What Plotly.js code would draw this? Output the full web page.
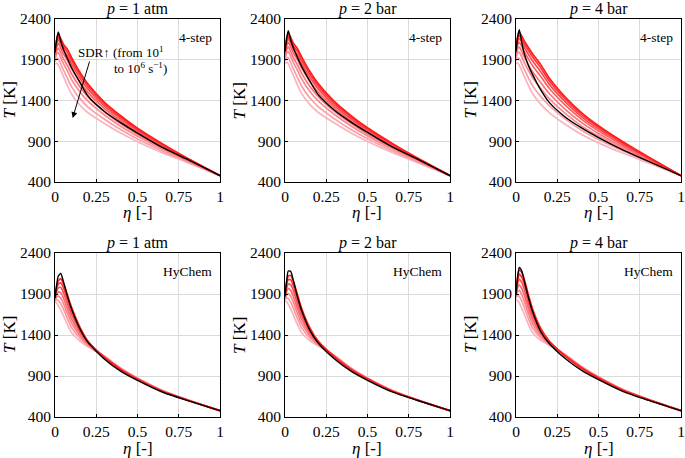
<!DOCTYPE html>
<html><head><meta charset="utf-8">
<script src="https://cdn.plot.ly/plotly-3.0.1.min.js"></script>
<style>html,body{margin:0;padding:0;background:#fff}#plot{width:685px;height:458px}</style>
</head><body><div id="plot"></div>
<script>
// mixture-fraction grid
const eta = [0, 0.01, 0.02, 0.035, 0.05, 0.075, 0.1, 0.15, 0.2, 0.3, 0.4, 0.5, 0.65, 0.8, 1];

// panel titles / labels
const pressureLabels = ['<i>p</i> = 1 atm', '<i>p</i> = 2 bar', '<i>p</i> = 4 bar', '<i>p</i> = 1 atm', '<i>p</i> = 2 bar', '<i>p</i> = 4 bar'];
const mechLabels = ['4-step', '4-step', '4-step', 'HyChem', 'HyChem', 'HyChem'];
const yTickVals = [400, 900, 1400, 1900, 2400];
const xTickVals = [0, 0.25, 0.5, 0.75, 1];
const xTickText = ['0', '0.25', '0.5', '0.75', '1'];

// 4-step, 1 atm (flamelets, low SDR -> high SDR)
const red_4s_1atm = [
 [2000, 2140, 2215, 2160, 2095, 2030, 1930, 1750, 1602, 1378, 1210, 1060, 870, 695, 478],
 [1988, 2117, 2185, 2129, 2063, 1994, 1894, 1718, 1574, 1357, 1193, 1047, 861, 691, 478],
 [1973, 2089, 2147, 2090, 2024, 1950, 1849, 1677, 1539, 1331, 1172, 1030, 850, 685, 478],
 [1954, 2055, 2101, 2043, 1977, 1897, 1795, 1629, 1496, 1300, 1146, 1010, 837, 679, 478],
 [1932, 2013, 2044, 1985, 1917, 1830, 1728, 1568, 1444, 1261, 1114, 986, 821, 670, 478],
 [1909, 1971, 1987, 1926, 1858, 1763, 1660, 1507, 1391, 1222, 1082, 961, 804, 662, 478],
 [1878, 1914, 1911, 1848, 1779, 1674, 1570, 1426, 1320, 1170, 1040, 928, 782, 651, 478],
 [1848, 1858, 1835, 1770, 1700, 1585, 1480, 1345, 1250, 1118, 997, 895, 760, 640, 478]
];
const black_4s_1atm = [1990, 2150, 2240, 2125, 2035, 1915, 1805, 1625, 1455, 1265, 1125, 1000, 825, 680, 478];

// 4-step, 2 bar
const red_4s_2bar = [
 [2010, 2155, 2228, 2172, 2105, 2038, 1938, 1758, 1610, 1385, 1215, 1065, 874, 698, 478],
 [1998, 2132, 2198, 2141, 2074, 2003, 1902, 1726, 1582, 1364, 1198, 1052, 865, 693, 478],
 [1982, 2104, 2160, 2102, 2034, 1958, 1857, 1685, 1546, 1338, 1176, 1035, 854, 688, 478],
 [1964, 2070, 2114, 2055, 1987, 1905, 1803, 1636, 1504, 1306, 1151, 1015, 840, 681, 478],
 [1941, 2027, 2057, 1997, 1928, 1839, 1736, 1575, 1451, 1267, 1119, 990, 824, 672, 478],
 [1918, 1984, 2000, 1938, 1869, 1772, 1668, 1514, 1398, 1228, 1087, 965, 807, 664, 478],
 [1887, 1927, 1924, 1860, 1791, 1684, 1578, 1433, 1327, 1175, 1044, 931, 784, 652, 478],
 [1856, 1870, 1848, 1782, 1712, 1595, 1488, 1352, 1256, 1123, 1001, 898, 762, 641, 478]
];
const black_4s_2bar = [2000, 2165, 2255, 2140, 2050, 1930, 1822, 1640, 1475, 1280, 1135, 1008, 830, 683, 478];

// 4-step, 4 bar
const red_4s_4bar = [
 [2030, 2180, 2235, 2190, 2130, 2050, 1975, 1840, 1680, 1440, 1245, 1090, 890, 710, 478],
 [2016, 2154, 2203, 2156, 2095, 2013, 1936, 1801, 1646, 1413, 1224, 1073, 879, 704, 478],
 [1999, 2122, 2162, 2114, 2052, 1966, 1887, 1752, 1604, 1380, 1197, 1052, 865, 697, 478],
 [1978, 2084, 2114, 2063, 2000, 1911, 1828, 1694, 1553, 1340, 1166, 1027, 849, 688, 478],
 [1952, 2036, 2054, 1999, 1934, 1841, 1755, 1620, 1489, 1289, 1126, 996, 828, 677, 478],
 [1926, 1988, 1993, 1935, 1869, 1771, 1681, 1547, 1425, 1239, 1086, 964, 807, 666, 478],
 [1891, 1924, 1913, 1850, 1782, 1678, 1583, 1450, 1340, 1172, 1033, 922, 780, 651, 478],
 [1856, 1860, 1832, 1765, 1695, 1585, 1485, 1352, 1255, 1105, 980, 880, 752, 636, 478]
];
const black_4s_4bar = [2000, 2180, 2270, 2110, 1975, 1830, 1720, 1530, 1380, 1195, 1060, 945, 790, 655, 478];

// HyChem, 1 atm
const red_hy_1atm = [
 [1860, 1990, 2060, 2085, 2035, 1890, 1740, 1500, 1325, 1125, 975, 858, 712, 607, 477],
 [1852, 1964, 2021, 2036, 1984, 1843, 1700, 1478, 1316, 1127, 978, 860, 714, 608, 477],
 [1843, 1934, 1976, 1979, 1924, 1788, 1653, 1452, 1305, 1129, 981, 863, 716, 608, 477],
 [1833, 1900, 1925, 1914, 1857, 1726, 1601, 1424, 1294, 1132, 984, 866, 718, 609, 477],
 [1823, 1866, 1874, 1849, 1790, 1664, 1548, 1395, 1282, 1134, 987, 869, 720, 610, 477],
 [1812, 1830, 1820, 1781, 1724, 1598, 1492, 1364, 1269, 1137, 991, 872, 723, 611, 477],
 [1800, 1790, 1760, 1705, 1640, 1525, 1430, 1330, 1255, 1140, 995, 875, 725, 612, 477]
];
const black_hy_1atm = [1850, 2010, 2120, 2150, 2060, 1875, 1720, 1480, 1310, 1105, 957, 847, 705, 603, 477];

// HyChem, 2 bar
const red_hy_2bar = [
 [1880, 2040, 2120, 2125, 2060, 1895, 1730, 1490, 1328, 1130, 977, 860, 713, 607, 477],
 [1872, 2009, 2075, 2072, 2006, 1847, 1691, 1469, 1320, 1133, 980, 862, 715, 608, 477],
 [1862, 1973, 2023, 2010, 1945, 1792, 1646, 1446, 1310, 1136, 983, 865, 717, 608, 477],
 [1851, 1932, 1965, 1941, 1875, 1730, 1595, 1419, 1300, 1139, 986, 868, 719, 609, 477],
 [1840, 1891, 1906, 1871, 1805, 1667, 1544, 1392, 1289, 1142, 990, 871, 721, 610, 477],
 [1828, 1848, 1844, 1797, 1730, 1601, 1490, 1364, 1278, 1146, 994, 874, 723, 611, 477],
 [1815, 1800, 1775, 1715, 1648, 1528, 1430, 1332, 1265, 1150, 998, 877, 726, 612, 477]
];
const black_hy_2bar = [1870, 2060, 2180, 2175, 2070, 1870, 1705, 1460, 1305, 1108, 960, 848, 706, 604, 477];

// HyChem, 4 bar
const red_hy_4bar = [
 [1910, 2110, 2195, 2160, 2080, 1890, 1720, 1480, 1330, 1140, 992, 873, 721, 611, 477],
 [1900, 2072, 2142, 2103, 2025, 1843, 1682, 1461, 1323, 1143, 995, 875, 723, 612, 477],
 [1889, 2029, 2082, 2038, 1961, 1789, 1639, 1439, 1315, 1146, 998, 878, 725, 613, 477],
 [1876, 1980, 2013, 1964, 1889, 1728, 1590, 1415, 1305, 1149, 1001, 881, 727, 614, 477],
 [1864, 1930, 1944, 1890, 1816, 1667, 1540, 1390, 1296, 1152, 1004, 884, 729, 615, 477],
 [1850, 1878, 1871, 1812, 1740, 1602, 1488, 1364, 1286, 1156, 1008, 887, 731, 616, 477],
 [1835, 1820, 1790, 1725, 1655, 1530, 1430, 1335, 1275, 1160, 1012, 890, 734, 617, 477]
];
const black_hy_4bar = [1900, 2110, 2225, 2180, 2060, 1860, 1690, 1440, 1300, 1110, 965, 855, 710, 605, 477];

const redSets = [red_4s_1atm, red_4s_2bar, red_4s_4bar, red_hy_1atm, red_hy_2bar, red_hy_4bar];
const blackSets = [black_4s_1atm, black_4s_2bar, black_4s_4bar, black_hy_1atm, black_hy_2bar, black_hy_4bar];

// ---------- layout geometry (pixels) ----------
const W = 685, H = 458;
const colPx = [[55, 220], [285, 450], [516, 681]];
const rowPx = [[19, 182], [253, 417]];
const FONT = 'Liberation Serif, Times New Roman, serif';

function shade(i, n) {
  const t = n > 1 ? i / (n - 1) : 0;
  const r = Math.round(255 - 6 * t);
  const g = Math.round(30 + 150 * t);
  const b = Math.round(30 + 160 * t);
  return `rgb(${r},${g},${b})`;
}

const traces = [];
const layout = {
  width: W, height: H,
  margin: {l: 0, r: 0, t: 0, b: 0},
  paper_bgcolor: '#fff', plot_bgcolor: '#fff',
  showlegend: false,
  font: {family: FONT, color: '#000', size: 15},
  annotations: []
};

for (let p = 0; p < 6; p++) {
  const row = Math.floor(p / 3), col = p % 3;
  const sfx = p === 0 ? '' : String(p + 1);
  const xa = 'x' + sfx, ya = 'y' + sfx;
  const [x0, x1] = colPx[col];
  const [y0, y1] = rowPx[row];
  const common = {
    showline: true, mirror: true, linecolor: '#000', linewidth: 1,
    showgrid: true, gridcolor: '#dadada', gridwidth: 1,
    zeroline: false, ticks: 'inside', ticklen: 3, tickcolor: '#000',
    tickfont: {family: FONT, size: 15.5, color: '#000'}, fixedrange: true
  };
  layout['xaxis' + sfx] = Object.assign({}, common, {
    domain: [x0 / W, x1 / W], range: [0, 1], anchor: ya,
    tickvals: xTickVals, ticktext: xTickText
  });
  layout['yaxis' + sfx] = Object.assign({}, common, {
    domain: [1 - y1 / H, 1 - y0 / H], range: [400, 2400], anchor: xa,
    tickvals: yTickVals
  });

  const reds = redSets[p];
  for (let i = reds.length - 1; i >= 0; i--) {
    traces.push({x: eta, y: reds[i], xaxis: xa, yaxis: ya, mode: 'lines',
      line: {color: shade(i, reds.length), width: 1.7, shape: 'spline', smoothing: 0.6},
      hoverinfo: 'skip'});
  }
  traces.push({x: eta, y: blackSets[p], xaxis: xa, yaxis: ya, mode: 'lines',
    line: {color: '#000', width: 1.4, shape: 'spline', smoothing: 0.6}, hoverinfo: 'skip'});

  const cx = (x0 + x1) / 2;
  layout.annotations.push({xref: 'paper', yref: 'paper', x: cx / W, y: 1 - (y0 - 10) / H,
    text: pressureLabels[p], showarrow: false, xanchor: 'center', yanchor: 'middle',
    font: {family: FONT, size: 16, color: '#000'}});
  layout.annotations.push({xref: 'paper', yref: 'paper', x: cx / W, y: 1 - (y1 + 31) / H,
    text: '<i>η</i> [-]', showarrow: false, xanchor: 'center', yanchor: 'middle',
    font: {family: FONT, size: 17, color: '#000'}});
  layout.annotations.push({xref: 'paper', yref: 'paper', x: (x0 - 46) / W, y: 1 - ((y0 + y1) / 2) / H,
    text: '<i>T</i> [K]', showarrow: false, textangle: -90, xanchor: 'center', yanchor: 'middle',
    font: {family: FONT, size: 17, color: '#000'}});
  layout.annotations.push({xref: 'paper', yref: 'paper', x: (x1 - 6) / W, y: 1 - (y0 + 18) / H,
    text: mechLabels[p], showarrow: false, xanchor: 'right', yanchor: 'middle',
    font: {family: FONT, size: 13.5, color: '#000'}});
}

// SDR arrow annotation on first panel
layout.annotations.push({xref: 'x', yref: 'y', x: 0.107, y: 1185, ax: 0.212, ay: 1897,
  axref: 'x', ayref: 'y', text: '', showarrow: true, arrowhead: 2, arrowsize: 1.2,
  arrowwidth: 1, arrowcolor: '#000'});
layout.annotations.push({xref: 'paper', yref: 'paper', x: 76 / W, y: 1 - 52 / H,
  text: 'SDR↑ (from 10<sup>1</sup>', showarrow: false, xanchor: 'left', yanchor: 'middle',
  font: {family: FONT, size: 13, color: '#000'}});
layout.annotations.push({xref: 'paper', yref: 'paper', x: 112 / W, y: 1 - 68 / H,
  text: 'to 10<sup>6</sup> s<sup>−1</sup>)', showarrow: false, xanchor: 'left', yanchor: 'middle',
  font: {family: FONT, size: 13, color: '#000'}});

Plotly.newPlot('plot', traces, layout, {staticPlot: true, displayModeBar: false});
</script>
</body></html>
